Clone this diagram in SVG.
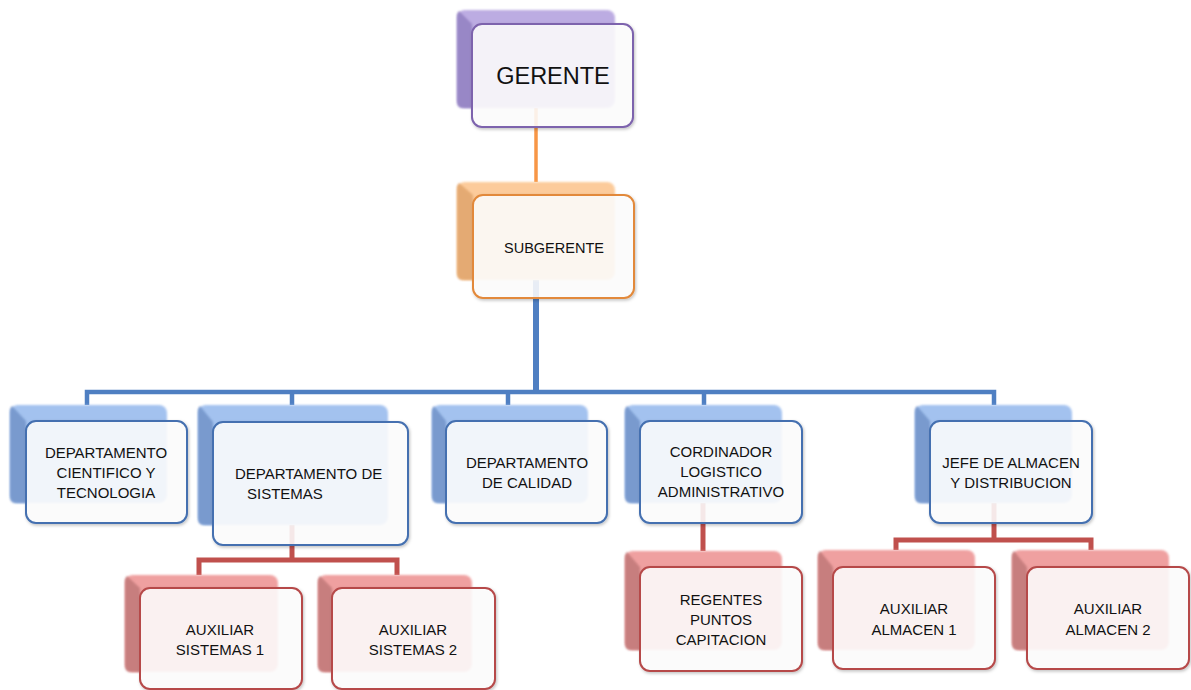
<svg xmlns="http://www.w3.org/2000/svg" width="1191" height="690" viewBox="0 0 1191 690">
<defs>
<filter id="soft" x="-10%" y="-10%" width="120%" height="120%"><feGaussianBlur stdDeviation="1.2"/></filter>
<filter id="shadow" x="-10%" y="-10%" width="125%" height="125%"><feDropShadow dx="1" dy="1.5" stdDeviation="1.5" flood-color="#000" flood-opacity="0.25"/></filter>
</defs>
<style>
.back{filter:url(#soft);opacity:0.92}
.bevel{filter:url(#soft);opacity:0.92}
.front{fill:#ffffff;fill-opacity:0.86;stroke-width:2;filter:url(#shadow)}
.p .back{fill:#b7a5e0} .p .bevel{fill:#9584c4} .p .front{stroke:#7d63ad}
.o .back{fill:#fcc793} .o .bevel{fill:#e3a870} .o .front{stroke:#e2893a}
.b .back{fill:#9cbdee} .b .bevel{fill:#7697cc} .b .front{stroke:#4470b0}
.r .back{fill:#ee9999} .r .bevel{fill:#c47c7c} .r .front{stroke:#b64a4a}
text{font-family:"Liberation Sans",Arial,sans-serif;font-size:15px;fill:#111;text-anchor:middle}
.conn path{fill:none;stroke-linejoin:miter}
.oc{stroke:#f79646;stroke-width:3.5}
.bc{stroke:#4f7fc2}
.rc{stroke:#c0504d;stroke-width:5}
</style>
<g id="connectors" class="conn">
<path class="oc" d="M536 108 V182"/>
<path class="bc" stroke-width="6" d="M536 280 V392"/>
<path class="bc" stroke-width="4.5" d="M87 405 V392 H994 V405"/>
<path class="bc" stroke-width="4.5" d="M292 392 V405 M508 392 V405 M704 392 V405"/>
<path class="rc" d="M292 525 V560"/>
<path class="rc" d="M199 575 V560 H397 V575"/>
<path class="rc" d="M703 503 V551"/>
<path class="rc" d="M994 503 V540"/>
<path class="rc" d="M896 550 V540 H1091 V550"/>
</g>
<g id="gerente" class="p">
<rect class="back" x="457" y="10" width="158" height="98" rx="8"/>
<path class="bevel" d="M459 11 L472 24 V108 H463 Q457 108 457 102 V17 Q457 13 459 11 Z"/>
<rect class="front" x="472" y="24" width="161" height="103" rx="10"/>
<text x="553" y="84" style="font-size:23.5px">GERENTE</text>
</g>
<g id="subgerente" class="o">
<rect class="back" x="457" y="182" width="158" height="98" rx="8"/>
<path class="bevel" d="M459 183 L473 195 V280 H463 Q457 280 457 274 V189 Q457 185 459 183 Z"/>
<rect class="front" x="473" y="195" width="161" height="103" rx="10"/>
<text x="554" y="253" style="font-size:14.5px">SUBGERENTE</text>
</g>
<g id="dep-cientifico" class="b">
<rect class="back" x="10" y="405" width="157" height="98" rx="8"/>
<path class="bevel" d="M12 406 L26 421 V503 H16 Q10 503 10 497 V412 Q10 408 12 406 Z"/>
<rect class="front" x="26" y="421" width="161" height="102" rx="10"/>
<text x="106" y="458">DEPARTAMENTO</text>
<text x="106" y="478">CIENTIFICO Y</text>
<text x="106" y="498">TECNOLOGIA</text>
</g>
<g id="dep-sistemas" class="b">
<rect class="back" x="198" y="405" width="190" height="120" rx="8"/>
<path class="bevel" d="M200 406 L213 422 V525 H204 Q198 525 198 519 V412 Q198 408 200 406 Z"/>
<rect class="front" x="213" y="422" width="195" height="123" rx="10"/>
<text x="235" y="479" style="text-anchor:start">DEPARTAMENTO DE</text>
<text x="247" y="499" style="text-anchor:start">SISTEMAS</text>
</g>
<g id="dep-calidad" class="b">
<rect class="back" x="432" y="405" width="156" height="98" rx="8"/>
<path class="bevel" d="M434 406 L446 421 V503 H438 Q432 503 432 497 V412 Q432 408 434 406 Z"/>
<rect class="front" x="446" y="421" width="161" height="102" rx="10"/>
<text x="527" y="468">DEPARTAMENTO</text>
<text x="527" y="488">DE CALIDAD</text>
</g>
<g id="cordinador" class="b">
<rect class="back" x="625" y="405" width="157" height="98" rx="8"/>
<path class="bevel" d="M627 406 L640 421 V503 H631 Q625 503 625 497 V412 Q625 408 627 406 Z"/>
<rect class="front" x="640" y="421" width="162" height="102" rx="10"/>
<text x="721" y="457">CORDINADOR</text>
<text x="721" y="477">LOGISTICO</text>
<text x="721" y="497">ADMINISTRATIVO</text>
</g>
<g id="jefe-almacen" class="b">
<rect class="back" x="915" y="405" width="157" height="98" rx="8"/>
<path class="bevel" d="M917 406 L930 421 V503 H921 Q915 503 915 497 V412 Q915 408 917 406 Z"/>
<rect class="front" x="930" y="421" width="162" height="102" rx="10"/>
<text x="1011" y="468">JEFE DE ALMACEN</text>
<text x="1011" y="488">Y DISTRIBUCION</text>
</g>
<g id="aux-sistemas-1" class="r">
<rect class="back" x="125" y="575" width="153" height="97" rx="8"/>
<path class="bevel" d="M127 576 L140 588 V672 H131 Q125 672 125 666 V582 Q125 578 127 576 Z"/>
<rect class="front" x="140" y="588" width="162" height="101" rx="10"/>
<text x="220" y="635">AUXILIAR</text>
<text x="220" y="655">SISTEMAS 1</text>
</g>
<g id="aux-sistemas-2" class="r">
<rect class="back" x="318" y="575" width="154" height="97" rx="8"/>
<path class="bevel" d="M320 576 L332 588 V672 H324 Q318 672 318 666 V582 Q318 578 320 576 Z"/>
<rect class="front" x="332" y="588" width="163" height="101" rx="10"/>
<text x="413" y="635">AUXILIAR</text>
<text x="413" y="655">SISTEMAS 2</text>
</g>
<g id="regentes" class="r">
<rect class="back" x="625" y="551" width="157" height="99" rx="8"/>
<path class="bevel" d="M627 552 L640 567 V650 H631 Q625 650 625 644 V558 Q625 554 627 552 Z"/>
<rect class="front" x="640" y="567" width="162" height="104" rx="10"/>
<text x="721" y="605">REGENTES</text>
<text x="721" y="625">PUNTOS</text>
<text x="721" y="645">CAPITACION</text>
</g>
<g id="aux-almacen-1" class="r">
<rect class="back" x="818" y="550" width="157" height="100" rx="8"/>
<path class="bevel" d="M820 551 L833 567 V650 H824 Q818 650 818 644 V557 Q818 553 820 551 Z"/>
<rect class="front" x="833" y="567" width="162" height="102" rx="10"/>
<text x="914" y="614">AUXILIAR</text>
<text x="914" y="635">ALMACEN 1</text>
</g>
<g id="aux-almacen-2" class="r">
<rect class="back" x="1012" y="550" width="157" height="100" rx="8"/>
<path class="bevel" d="M1014 551 L1027 567 V650 H1018 Q1012 650 1012 644 V557 Q1012 553 1014 551 Z"/>
<rect class="front" x="1027" y="567" width="162" height="102" rx="10"/>
<text x="1108" y="614">AUXILIAR</text>
<text x="1108" y="635">ALMACEN 2</text>
</g>
</svg>
